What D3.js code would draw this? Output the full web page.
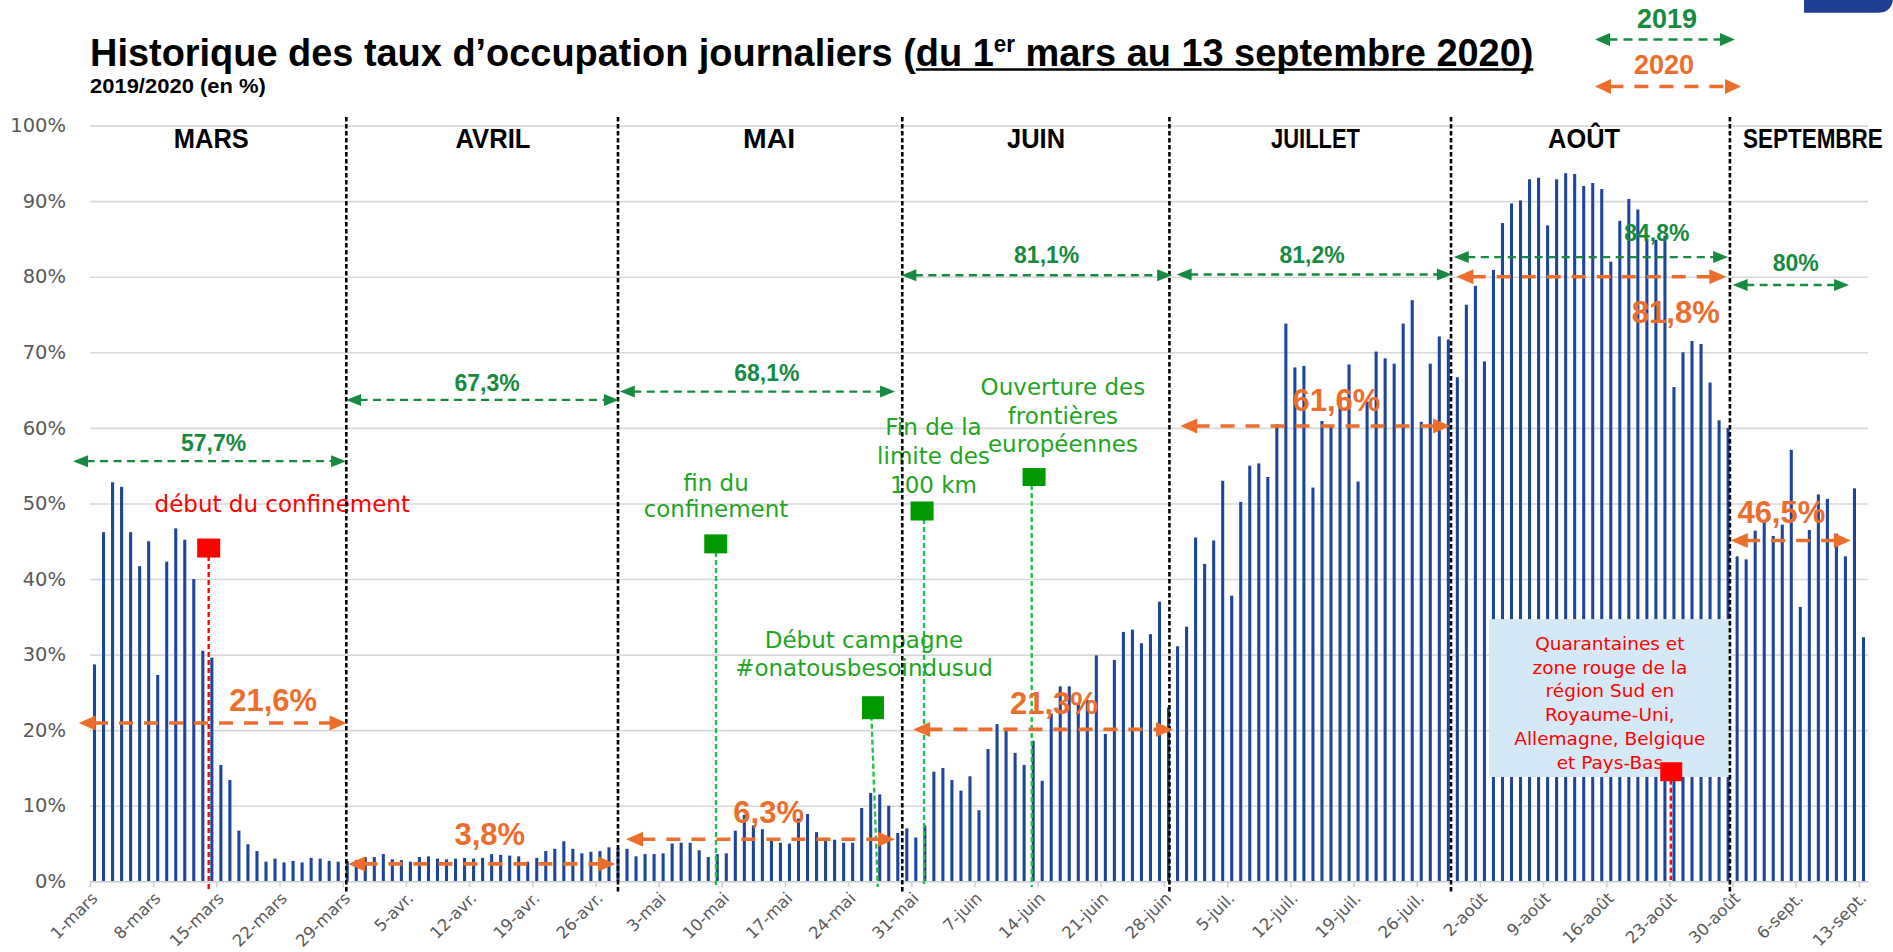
<!DOCTYPE html>
<html><head><meta charset="utf-8">
<script src="https://cdn.jsdelivr.net/npm/d3@7"></script>
<style>body{margin:0;background:#fff}svg{display:block}</style>
</head><body><svg id="c" width="1893" height="952"></svg>
<script>
// ---------------- DATA ----------------
const marsRates = [28.7,46.2,52.8,52.2,46.2,41.7,45.0,27.3,42.3,46.7,45.2,40.0,30.5,29.6,15.4,13.4,6.7,4.9,4.0,2.6,3.0,2.5,2.7,2.5,3.1,3.0,2.7,2.6,2.7,2.8,3.2];
const avrilRates = [3.2,3.6,2.9,2.8,2.6,3.2,3.3,3.0,2.9,3.0,3.1,3.0,3.1,3.6,3.5,3.4,3.3,2.6,3.1,4.0,4.3,5.3,4.3,3.7,3.9,4.0,4.5,4.4,4.3,3.3];
const maiRates = [3.6,3.6,3.7,5.0,5.1,5.1,4.1,3.2,3.6,3.7,6.7,8.8,7.4,6.9,5.4,5.1,5.0,8.3,8.9,6.5,5.5,5.5,5.1,5.1,9.7,11.7,11.5,10.0,6.4,7.0,5.8];
const juinRates = [7.4,14.5,15.0,13.4,12.0,13.9,9.4,17.5,20.8,20.3,17.0,15.4,18.6,13.3,22.2,25.8,25.8,23.5,24.0,29.9,19.5,29.3,33.0,33.3,31.5,32.7,37.0,23.0,31.1,33.7];
const juilletRates = [45.5,42.0,45.1,53.0,37.8,50.2,55.0,55.3,53.5,60.5,73.8,68.0,68.2,52.1,60.9,60.3,64.2,68.4,52.9,63.5,70.1,69.2,68.5,73.8,76.9,60.8,68.5,72.1,71.7,66.7,76.3];
const aoutRates = [78.8,68.8,80.9,87.1,89.7,90.1,92.9,93.1,86.8,92.9,93.7,93.6,92.0,92.4,91.6,82.0,87.4,90.3,88.9,85.0,84.9,85.4,65.4,70.0,71.5,71.1,66.0,61.0,60.0,43.0,42.6];
const septRates = [46.4,47.8,45.7,47.2,57.1,36.3,46.5,51.2,50.6,46.0,43.0,52.0,32.3];
const dailyRates = [].concat(marsRates, avrilRates, maiRates, juinRates, juilletRates, aoutRates, septRates);

const tickLabels = ["1-mars","8-mars","15-mars","22-mars","29-mars","5-avr.","12-avr.","19-avr.","26-avr.","3-mai","10-mai","17-mai","24-mai","31-mai","7-juin","14-juin","21-juin","28-juin","5-juil.","12-juil.","19-juil.","26-juil.","2-août","9-août","16-août","23-août","30-août","6-sept.","13-sept."];
const yTicks = [0,10,20,30,40,50,60,70,80,90,100];
const monthNames = ["MARS","AVRIL","MAI","JUIN","JUILLET","AOÛT","SEPTEMBRE"];
const avg2019Labels = ["57,7%","67,3%","68,1%","81,1%","81,2%","84,8%","80%"];
const avg2020Labels = ["21,6%","3,8%","6,3%","21,3%","61,6%","81,8%","46,5%"];
const titleParts = ["Historique des taux d\u2019occupation journaliers (","du 1","er"," mars au 13 septembre 2020)"];
const subtitle = "2019/2020 (en %)";
const legendYears = ["2019","2020"];
const eventTexts = [
  ["début du confinement"],
  ["fin du","confinement"],
  ["Début campagne","#onatousbesoindusud"],
  ["Fin de la","limite des","100 km"],
  ["Ouverture des","frontières","européennes"],
  ["Quarantaines et","zone rouge de la","région Sud en","Royaume-Uni,","Allemagne, Belgique","et Pays-Bas"]
];

// ---------------- LAYOUT ----------------
const W = 1893, H = 952;
const plotL = 90, plotR = 1868, plotB = 881.3, plotT = 125.6;
const GREEN = "#168A40", ORANGE = "#EC6E2D", BAR = "#1F459A", EVG = "#1FA51F", EVLINE = "#22C04A", SQG = "#009A00", RED = "#FF0000";
const F_SANS = "'Liberation Sans', Arial, sans-serif";
const F_GOTH = "'DejaVu Sans', sans-serif";

const svg = d3.select("#c");
svg.append("rect").attr("width",W).attr("height",H).attr("fill","#fff");

const xDay = d3.scaleLinear().domain([0, dailyRates.length]).range([plotL, plotR]);
const xBand = d3.scaleBand().domain(d3.range(dailyRates.length)).range([plotL, plotR]).paddingInner(0.66).paddingOuter(0.33);
const y = d3.scaleLinear().domain([0,100]).range([plotB, plotT]);

// fits a text horizontally into a given width (centered at cx)
function fitText(sel, cx, w){
  const nw = sel.node().getComputedTextLength();
  const yy = +sel.attr("y");
  sel.attr("x",0).attr("y",0).attr("transform",`translate(${cx - w/2},${yy}) scale(${w/nw},1)`);
}

// logo corner
svg.append("path").attr("d",`M1804,0 H1893 V0 Q1891,12.7 1878,12.7 H1804 Z`).attr("fill","#1F3F93");

// title
const tg = svg.append("g");
const tt = tg.append("text").style("font-family",F_SANS).style("font-weight","bold").style("font-size","39px").attr("fill","#000");
tt.append("tspan").text(titleParts[0]);
tt.append("tspan").text(titleParts[1]);
tt.append("tspan").attr("dy",-14).style("font-size","23px").text(titleParts[2]);
tt.append("tspan").attr("dy",14).text(titleParts[3]);
const natW = tt.node().getComputedTextLength();
tg.attr("transform",`translate(90,66) scale(${1444/natW},1)`);
const n0 = titleParts[0].length, nAll = titleParts.join("").length;
const ux1 = tt.node().getStartPositionOfChar(n0).x;
const ux2 = tt.node().getEndPositionOfChar(nAll-1).x;
tg.append("line").attr("x1",ux1).attr("x2",ux2).attr("y1",3.5).attr("y2",3.5).attr("stroke","#000").attr("stroke-width",2.6);

const st = svg.append("text").attr("y",93).style("font-family",F_SANS).style("font-weight","bold").style("font-size","20px").text(subtitle);
fitText(st, 90 + 88, 176);

// gridlines + y labels
const yAxis = svg.append("g").attr("transform",`translate(${plotL},0)`)
  .call(d3.axisLeft(y).tickValues(yTicks).tickSize(-(plotR-plotL)).tickPadding(24).tickFormat(d => d + "%"));
yAxis.select(".domain").remove();
yAxis.selectAll(".tick line").attr("stroke","#D9D9D9").attr("stroke-width",1.6);
yAxis.selectAll(".tick text").style("font-family",F_GOTH).style("font-size","19.5px").attr("fill","#595959");

// bars
svg.append("g").selectAll("rect").data(dailyRates).join("rect")
  .attr("x",(d,i)=>xBand(i)).attr("width",xBand.bandwidth())
  .attr("y",d=>y(d)).attr("height",d=>y(0)-y(d)).attr("fill",BAR);

// x axis
const xAxis = svg.append("g").attr("transform",`translate(0,${plotB})`)
  .call(d3.axisBottom(xDay).tickValues(d3.range(0, dailyRates.length, 7)).tickSize(6).tickSizeOuter(0).tickFormat((d,i)=>tickLabels[i]));
xAxis.select(".domain").attr("stroke","#D0D0D0").attr("stroke-width",1.6);
xAxis.selectAll(".tick line").attr("stroke","#D0D0D0").attr("stroke-width",1.6);
xAxis.selectAll(".tick text").style("font-family",F_GOTH).style("font-size","16.5px").attr("fill","#595959")
  .attr("text-anchor","end").attr("y",0).attr("dy",0)
  .attr("transform","translate(8,18) rotate(-45)");

// quarantine box (over bars)
const boxL = {x1:155.0, x2:181.8, v1:34.7, v2:13.8};
svg.append("rect").attr("x",xDay(boxL.x1)).attr("width",xDay(boxL.x2)-xDay(boxL.x1))
  .attr("y",y(boxL.v1)).attr("height",y(boxL.v2)-y(boxL.v1)).attr("fill","#D5E8F6");

// event lines & texts
const eventLayout = [
  {col:RED, lc:RED, l1:13.15, l2:13.15, sx:13.15, sv:44.1, sw:23, sh:19, tx:21.3, ty:[512], fs:23, bot:890},
  {col:EVG, lc:EVLINE, l1:69.36, l2:69.36, sx:69.33, sv:44.65, sw:23, sh:19, tx:69.36, ty:[491,517], fs:23, bot:885},
  {col:EVG, lc:EVLINE, l1:86.55, l2:87.28, sx:86.75, sv:22.97, sw:22, sh:23, tx:85.76, ty:[648,676], fs:23, bot:887},
  {col:EVG, lc:EVLINE, l1:92.41, l2:92.41, sx:92.19, sv:49.0, sw:23, sh:19, tx:93.46, ty:[435,464,493], fs:23, bot:885},
  {col:EVG, lc:EVLINE, l1:104.34, l2:104.34, sx:104.6, sv:53.5, sw:23, sh:18, tx:107.8, ty:[395,424,452], fs:23, bot:887},
  {col:RED, lc:RED, l1:175.15, l2:175.15, sx:175.2, sv:14.5, sw:22, sh:19, tx:168.4, ty:[650,674,697,721,745,769], fs:18.5, bot:880}
];
eventLayout.forEach((e)=>{
  svg.append("line").attr("x1",xDay(e.l1)).attr("x2",xDay(e.l2)).attr("y1",y(e.sv)).attr("y2",e.bot)
    .attr("stroke",e.lc).attr("stroke-width",2.4).attr("stroke-dasharray","5,3");
});
eventLayout.forEach((e,k)=>{
  const t = svg.append("text").attr("text-anchor","middle").style("font-family",F_GOTH).style("font-size",e.fs+"px").attr("fill",e.col);
  eventTexts[k].forEach((line,j)=>{ t.append("tspan").attr("x",xDay(e.tx)).attr("y",e.ty[j]).text(line); });
});

// month separators & labels
const sepPos = [28.4, 58.5, 90.0, 119.6, 150.8, 181.7];
svg.append("g").selectAll("line").data(sepPos).join("line")
  .attr("x1",d=>xDay(d)).attr("x2",d=>xDay(d)).attr("y1",117).attr("y2",893)
  .attr("stroke","#000").attr("stroke-width",2.6).attr("stroke-dasharray","4.5,2.5");
const monthLayout = [{c:13.44,w:75},{c:44.65,w:75},{c:75.24,w:52},{c:104.82,w:58},{c:135.79,w:89},{c:165.54,w:72},{c:190.9,w:140}];
monthNames.forEach((m,i)=>{
  const t = svg.append("text").attr("y",148).style("font-family",F_SANS).style("font-weight","bold").style("font-size","28px").attr("fill","#000").text(m);
  fitText(t, xDay(monthLayout[i].c), monthLayout[i].w);
});

// arrows
function dArrow(x1, x2, yy, color, w, dash, hl, hw){
  const g = svg.append("g");
  g.append("line").attr("x1",x1+hl*0.9).attr("x2",x2-hl*0.9).attr("y1",yy).attr("y2",yy)
    .attr("stroke",color).attr("stroke-width",w).attr("stroke-dasharray",dash);
  g.append("path").attr("d",`M${x1},${yy} L${x1+hl},${yy-hw/2} L${x1+hl},${yy+hw/2} Z`).attr("fill",color);
  g.append("path").attr("d",`M${x2},${yy} L${x2-hl},${yy-hw/2} L${x2-hl},${yy+hw/2} Z`).attr("fill",color);
}
const lay2019 = [
  {x1:-1.88,x2:28.37,v:55.6,lx:13.7,dy:-10},
  {x1:28.37,x2:58.6,v:63.7,lx:44.0,dy:-9},
  {x1:58.7,x2:89.2,v:64.8,lx:75.0,dy:-10.5},
  {x1:89.9,x2:119.9,v:80.2,lx:106.0,dy:-12},
  {x1:120.4,x2:150.9,v:80.3,lx:135.4,dy:-11},
  {x1:151.1,x2:181.5,v:82.6,lx:173.6,dy:-16},
  {x1:182.0,x2:194.9,v:78.9,lx:189.0,dy:-14}
];
const lay2020 = [
  {x1:-1.25,x2:28.44,v:20.95,lx:20.3,dy:-12},
  {x1:28.6,x2:58.2,v:2.3,lx:44.3,dy:-19},
  {x1:59.4,x2:89.2,v:5.56,lx:75.2,dy:-16},
  {x1:91.2,x2:120.0,v:20.1,lx:106.8,dy:-15.5},
  {x1:120.8,x2:150.7,v:60.25,lx:138.1,dy:-15},
  {x1:151.4,x2:181.3,v:80.0,lx:175.7,dy:46},
  {x1:181.8,x2:195.1,v:45.1,lx:187.4,dy:-17}
];
lay2019.forEach((a,i)=>{
  dArrow(xDay(a.x1), xDay(a.x2), y(a.v), GREEN, 2.4, "8,5.5", 15, 12);
  svg.append("text").attr("x",xDay(a.lx)).attr("y",y(a.v)+a.dy).attr("text-anchor","middle")
    .style("font-family",F_SANS).style("font-weight","bold").style("font-size","23px").attr("fill",GREEN).text(avg2019Labels[i]);
});
lay2020.forEach((a,i)=>{
  dArrow(xDay(a.x1), xDay(a.x2), y(a.v), ORANGE, 3.6, "14,11", 17, 15);
  svg.append("text").attr("x",xDay(a.lx)).attr("y",y(a.v)+a.dy).attr("text-anchor","middle")
    .style("font-family",F_SANS).style("font-weight","bold").style("font-size","31px").attr("fill",ORANGE).text(avg2020Labels[i]);
});

// event squares
eventLayout.forEach((e)=>{
  svg.append("rect").attr("x",xDay(e.sx)-e.sw/2).attr("y",y(e.sv)-e.sh/2).attr("width",e.sw).attr("height",e.sh)
    .attr("fill", e.col===RED ? RED : SQG);
});

// legend (top right)
svg.append("text").attr("x",1667).attr("y",28).attr("text-anchor","middle").style("font-family",F_SANS).style("font-weight","bold").style("font-size","27px").attr("fill",GREEN).text(legendYears[0]);
dArrow(1595, 1735, 39.5, GREEN, 2.6, "9,6", 15, 13);
svg.append("text").attr("x",1664).attr("y",74).attr("text-anchor","middle").style("font-family",F_SANS).style("font-weight","bold").style("font-size","27px").attr("fill",ORANGE).text(legendYears[1]);
dArrow(1595, 1741, 86.5, ORANGE, 3.6, "14,11", 16, 15);
</script></body></html>
